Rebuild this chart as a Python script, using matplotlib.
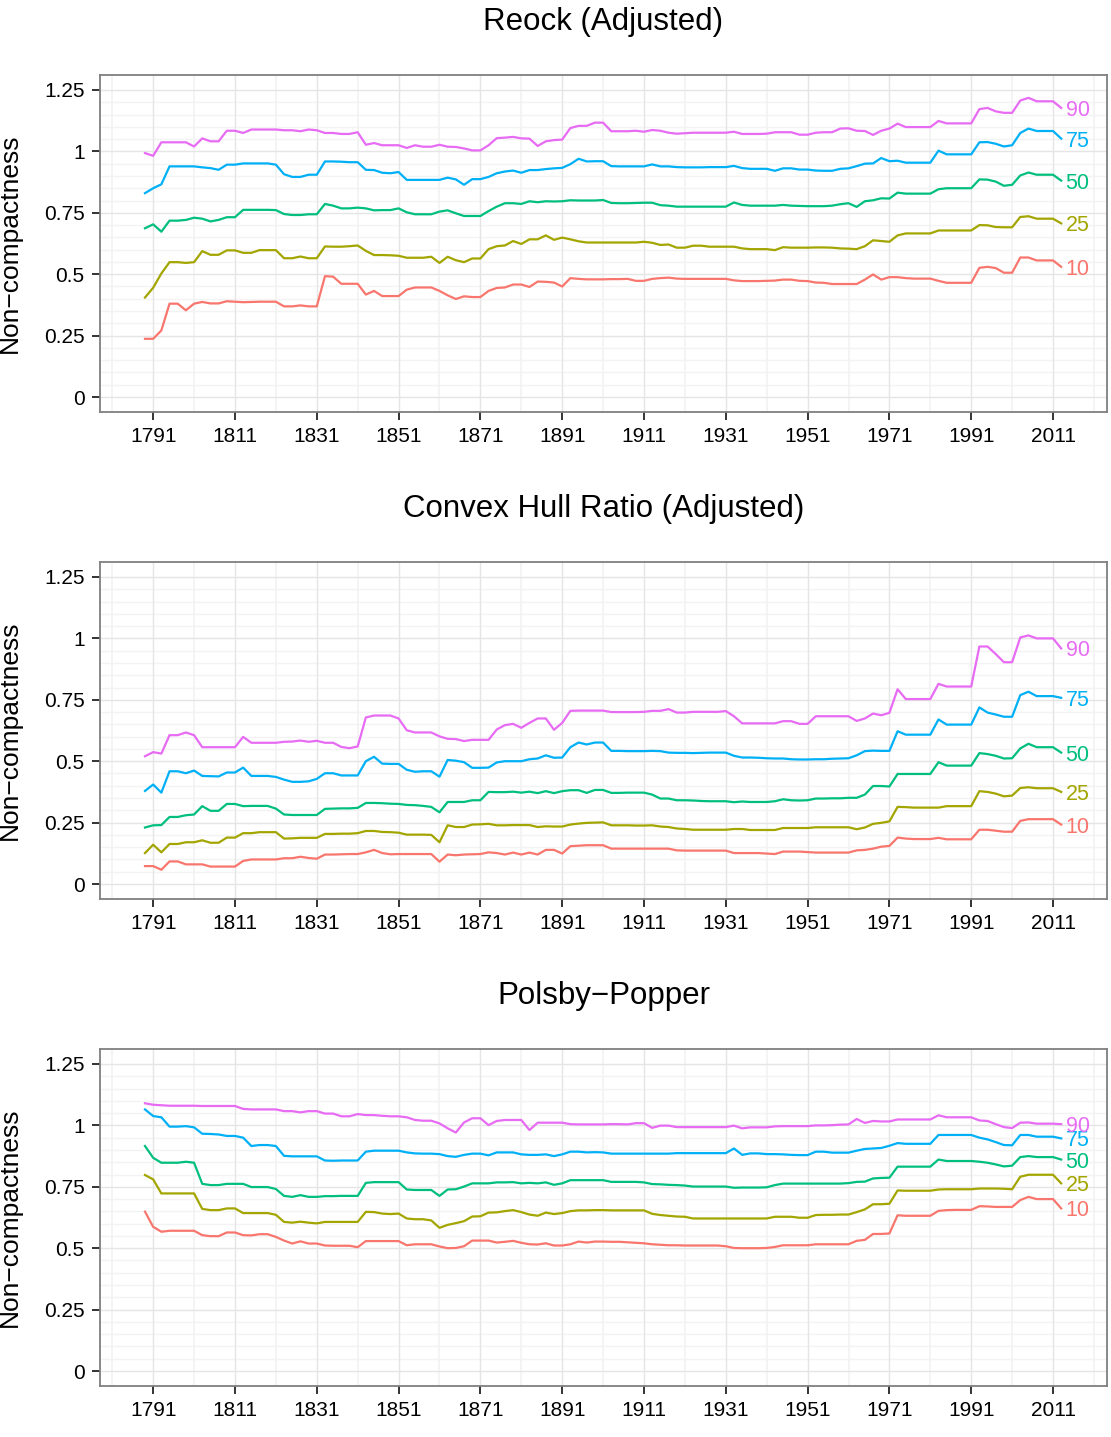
import matplotlib
matplotlib.use("Agg")
import matplotlib.pyplot as plt
import numpy as np

plt.rcParams['font.family'] = ['Liberation Sans', 'DejaVu Sans']

# congress start years, one point every two years
years = np.arange(1789, 2014, 2)
pct_names = ['10', '25', '50', '75', '90']
pct_colors = ['#F8766D', '#A3A500', '#00BF7D', '#00B0F6', '#E76BF3']
titles = ['Reock (Adjusted)', 'Convex Hull Ratio (Adjusted)', 'Polsby\u2212Popper']
ytick_vals = [0, 0.25, 0.5, 0.75, 1, 1.25]
ytick_labels = ['0', '0.25', '0.5', '0.75', '1', '1.25']
xtick_vals = list(range(1791, 2012, 20))

# ---- Reock (Adjusted) ----
reock_10 = [0.237, 0.237, 0.271, 0.380, 0.380, 0.353, 0.380, 0.387, 0.381, 0.381,
            0.390, 0.388, 0.386, 0.387, 0.388, 0.388, 0.388, 0.369, 0.369, 0.373,
            0.369, 0.369, 0.492, 0.490, 0.461, 0.461, 0.461, 0.417, 0.432, 0.411,
            0.411, 0.411, 0.437, 0.446, 0.446, 0.446, 0.432, 0.414, 0.399, 0.410,
            0.407, 0.407, 0.432, 0.444, 0.446, 0.458, 0.458, 0.448, 0.470, 0.469,
            0.466, 0.450, 0.484, 0.481, 0.479, 0.479, 0.479, 0.480, 0.480, 0.481,
            0.473, 0.473, 0.481, 0.484, 0.486, 0.482, 0.481, 0.481, 0.481, 0.481,
            0.481, 0.481, 0.475, 0.472, 0.472, 0.472, 0.473, 0.474, 0.478, 0.478,
            0.473, 0.472, 0.466, 0.465, 0.460, 0.460, 0.460, 0.460, 0.478, 0.499,
            0.478, 0.488, 0.488, 0.484, 0.482, 0.482, 0.482, 0.473, 0.465, 0.465,
            0.465, 0.465, 0.526, 0.530, 0.525, 0.506, 0.506, 0.568, 0.568, 0.556,
            0.556, 0.556, 0.530]
reock_25 = [0.405, 0.445, 0.503, 0.549, 0.549, 0.546, 0.549, 0.594, 0.579, 0.579,
            0.597, 0.597, 0.587, 0.587, 0.598, 0.598, 0.598, 0.565, 0.565, 0.572,
            0.565, 0.565, 0.613, 0.612, 0.612, 0.614, 0.617, 0.595, 0.578, 0.578,
            0.577, 0.575, 0.567, 0.567, 0.567, 0.571, 0.546, 0.571, 0.557, 0.549,
            0.564, 0.564, 0.602, 0.614, 0.617, 0.635, 0.623, 0.642, 0.642, 0.658,
            0.640, 0.649, 0.642, 0.634, 0.629, 0.629, 0.629, 0.629, 0.629, 0.629,
            0.629, 0.632, 0.628, 0.619, 0.621, 0.608, 0.608, 0.616, 0.616, 0.612,
            0.612, 0.612, 0.612, 0.605, 0.602, 0.602, 0.602, 0.598, 0.610, 0.608,
            0.608, 0.608, 0.609, 0.609, 0.608, 0.605, 0.604, 0.602, 0.614, 0.638,
            0.635, 0.632, 0.658, 0.666, 0.666, 0.666, 0.666, 0.678, 0.678, 0.678,
            0.678, 0.678, 0.700, 0.699, 0.692, 0.691, 0.691, 0.733, 0.736, 0.726,
            0.726, 0.726, 0.707]
reock_50 = [0.687, 0.703, 0.673, 0.718, 0.718, 0.721, 0.730, 0.726, 0.715, 0.721,
            0.732, 0.732, 0.762, 0.762, 0.762, 0.762, 0.761, 0.745, 0.741, 0.741,
            0.744, 0.744, 0.786, 0.779, 0.768, 0.768, 0.771, 0.768, 0.760, 0.761,
            0.761, 0.768, 0.752, 0.744, 0.744, 0.744, 0.755, 0.760, 0.748, 0.737,
            0.737, 0.737, 0.757, 0.775, 0.789, 0.789, 0.786, 0.797, 0.793, 0.797,
            0.796, 0.797, 0.801, 0.800, 0.800, 0.800, 0.802, 0.790, 0.789, 0.789,
            0.790, 0.791, 0.791, 0.781, 0.779, 0.775, 0.775, 0.775, 0.775, 0.775,
            0.775, 0.775, 0.792, 0.782, 0.779, 0.779, 0.779, 0.779, 0.782, 0.779,
            0.778, 0.777, 0.777, 0.777, 0.779, 0.785, 0.789, 0.774, 0.797, 0.801,
            0.809, 0.808, 0.832, 0.828, 0.828, 0.828, 0.828, 0.846, 0.850, 0.850,
            0.850, 0.850, 0.886, 0.885, 0.877, 0.860, 0.864, 0.902, 0.914, 0.905,
            0.905, 0.905, 0.881]
reock_75 = [0.830, 0.850, 0.866, 0.939, 0.939, 0.939, 0.939, 0.935, 0.932, 0.925,
            0.946, 0.946, 0.951, 0.951, 0.951, 0.951, 0.946, 0.907, 0.896, 0.896,
            0.905, 0.905, 0.959, 0.959, 0.958, 0.956, 0.956, 0.925, 0.924, 0.913,
            0.911, 0.916, 0.884, 0.884, 0.884, 0.884, 0.884, 0.893, 0.886, 0.864,
            0.887, 0.887, 0.896, 0.911, 0.918, 0.922, 0.913, 0.924, 0.924, 0.928,
            0.931, 0.933, 0.948, 0.970, 0.959, 0.960, 0.960, 0.940, 0.939, 0.939,
            0.939, 0.939, 0.947, 0.939, 0.939, 0.936, 0.935, 0.935, 0.935, 0.936,
            0.936, 0.936, 0.941, 0.932, 0.929, 0.929, 0.929, 0.921, 0.931, 0.931,
            0.926, 0.926, 0.922, 0.921, 0.921, 0.929, 0.931, 0.940, 0.950, 0.951,
            0.973, 0.960, 0.962, 0.954, 0.954, 0.954, 0.954, 1.003, 0.988, 0.988,
            0.988, 0.988, 1.037, 1.038, 1.031, 1.020, 1.025, 1.075, 1.093, 1.083,
            1.083, 1.083, 1.052]
reock_90 = [0.993, 0.982, 1.037, 1.037, 1.037, 1.037, 1.020, 1.053, 1.041, 1.041,
            1.084, 1.084, 1.075, 1.089, 1.089, 1.089, 1.089, 1.086, 1.086, 1.082,
            1.089, 1.086, 1.075, 1.075, 1.071, 1.071, 1.078, 1.027, 1.034, 1.025,
            1.025, 1.025, 1.014, 1.025, 1.019, 1.019, 1.027, 1.019, 1.018, 1.012,
            1.004, 1.004, 1.025, 1.054, 1.056, 1.059, 1.053, 1.052, 1.022, 1.041,
            1.046, 1.048, 1.095, 1.104, 1.104, 1.117, 1.117, 1.082, 1.082, 1.082,
            1.084, 1.080, 1.087, 1.084, 1.076, 1.072, 1.074, 1.076, 1.076, 1.076,
            1.076, 1.076, 1.080, 1.071, 1.071, 1.071, 1.072, 1.078, 1.078, 1.078,
            1.068, 1.068, 1.076, 1.078, 1.078, 1.093, 1.094, 1.084, 1.083, 1.067,
            1.084, 1.093, 1.113, 1.099, 1.099, 1.099, 1.099, 1.124, 1.114, 1.114,
            1.114, 1.114, 1.172, 1.177, 1.163, 1.157, 1.157, 1.207, 1.218, 1.204,
            1.204, 1.204, 1.177]

# ---- Convex Hull Ratio (Adjusted) ----
hull_10 = [0.073, 0.073, 0.058, 0.092, 0.092, 0.080, 0.080, 0.080, 0.071, 0.071,
           0.071, 0.071, 0.094, 0.100, 0.100, 0.100, 0.100, 0.105, 0.105, 0.111,
           0.106, 0.103, 0.120, 0.120, 0.121, 0.122, 0.122, 0.129, 0.139, 0.126,
           0.121, 0.122, 0.122, 0.122, 0.122, 0.122, 0.091, 0.120, 0.117, 0.120,
           0.121, 0.122, 0.129, 0.126, 0.120, 0.128, 0.120, 0.128, 0.120, 0.139,
           0.139, 0.124, 0.154, 0.156, 0.158, 0.158, 0.158, 0.144, 0.144, 0.144,
           0.144, 0.144, 0.144, 0.144, 0.144, 0.137, 0.136, 0.136, 0.136, 0.136,
           0.136, 0.136, 0.126, 0.126, 0.126, 0.126, 0.124, 0.122, 0.132, 0.132,
           0.132, 0.130, 0.128, 0.128, 0.128, 0.128, 0.128, 0.137, 0.139, 0.144,
           0.152, 0.155, 0.189, 0.185, 0.183, 0.183, 0.183, 0.188, 0.182, 0.182,
           0.182, 0.182, 0.221, 0.221, 0.217, 0.213, 0.213, 0.257, 0.264, 0.264,
           0.264, 0.264, 0.242]
hull_25 = [0.126, 0.160, 0.129, 0.163, 0.163, 0.170, 0.170, 0.178, 0.168, 0.168,
           0.189, 0.189, 0.207, 0.207, 0.211, 0.211, 0.211, 0.185, 0.186, 0.188,
           0.188, 0.188, 0.204, 0.204, 0.205, 0.205, 0.207, 0.216, 0.216, 0.212,
           0.211, 0.209, 0.201, 0.201, 0.201, 0.200, 0.170, 0.239, 0.232, 0.232,
           0.242, 0.243, 0.245, 0.239, 0.239, 0.240, 0.240, 0.240, 0.232, 0.235,
           0.234, 0.234, 0.242, 0.246, 0.249, 0.250, 0.251, 0.239, 0.239, 0.239,
           0.238, 0.238, 0.239, 0.234, 0.232, 0.226, 0.224, 0.221, 0.221, 0.221,
           0.221, 0.221, 0.224, 0.224, 0.220, 0.220, 0.220, 0.220, 0.228, 0.228,
           0.228, 0.228, 0.231, 0.231, 0.231, 0.231, 0.231, 0.223, 0.230, 0.245,
           0.249, 0.255, 0.314, 0.313, 0.311, 0.311, 0.311, 0.311, 0.317, 0.317,
           0.317, 0.317, 0.378, 0.375, 0.368, 0.357, 0.360, 0.391, 0.394, 0.390,
           0.390, 0.390, 0.375]
hull_50 = [0.230, 0.239, 0.240, 0.273, 0.273, 0.280, 0.283, 0.317, 0.298, 0.298,
           0.326, 0.326, 0.317, 0.318, 0.318, 0.318, 0.307, 0.283, 0.281, 0.281,
           0.281, 0.281, 0.306, 0.307, 0.308, 0.308, 0.310, 0.330, 0.330, 0.329,
           0.327, 0.326, 0.322, 0.321, 0.318, 0.314, 0.292, 0.334, 0.334, 0.334,
           0.341, 0.341, 0.375, 0.374, 0.374, 0.376, 0.372, 0.376, 0.370, 0.378,
           0.370, 0.378, 0.382, 0.382, 0.371, 0.383, 0.383, 0.371, 0.371, 0.372,
           0.372, 0.372, 0.364, 0.348, 0.348, 0.341, 0.341, 0.340, 0.338, 0.337,
           0.337, 0.337, 0.333, 0.336, 0.334, 0.334, 0.334, 0.337, 0.345, 0.341,
           0.340, 0.341, 0.348, 0.348, 0.349, 0.349, 0.351, 0.351, 0.364, 0.399,
           0.399, 0.397, 0.448, 0.448, 0.448, 0.448, 0.448, 0.496, 0.482, 0.482,
           0.482, 0.482, 0.533, 0.529, 0.522, 0.511, 0.512, 0.552, 0.571, 0.557,
           0.557, 0.557, 0.535]
hull_75 = [0.379, 0.405, 0.372, 0.459, 0.459, 0.451, 0.462, 0.440, 0.439, 0.438,
           0.454, 0.454, 0.474, 0.440, 0.440, 0.440, 0.436, 0.425, 0.416, 0.416,
           0.418, 0.428, 0.451, 0.451, 0.442, 0.442, 0.442, 0.500, 0.518, 0.490,
           0.489, 0.489, 0.465, 0.457, 0.459, 0.459, 0.437, 0.505, 0.502, 0.496,
           0.473, 0.473, 0.474, 0.495, 0.500, 0.500, 0.500, 0.508, 0.511, 0.524,
           0.514, 0.515, 0.557, 0.576, 0.568, 0.576, 0.576, 0.542, 0.542, 0.541,
           0.541, 0.541, 0.542, 0.541, 0.535, 0.534, 0.534, 0.533, 0.534, 0.535,
           0.535, 0.535, 0.522, 0.515, 0.515, 0.514, 0.512, 0.511, 0.511, 0.508,
           0.507, 0.507, 0.508, 0.508, 0.510, 0.511, 0.512, 0.524, 0.541, 0.543,
           0.542, 0.542, 0.622, 0.608, 0.608, 0.608, 0.608, 0.670, 0.649, 0.649,
           0.649, 0.649, 0.719, 0.698, 0.690, 0.681, 0.681, 0.769, 0.783, 0.765,
           0.765, 0.765, 0.758]
hull_90 = [0.520, 0.537, 0.531, 0.606, 0.606, 0.617, 0.606, 0.557, 0.557, 0.557,
           0.557, 0.557, 0.599, 0.575, 0.575, 0.575, 0.575, 0.579, 0.580, 0.584,
           0.579, 0.583, 0.575, 0.575, 0.558, 0.553, 0.560, 0.678, 0.686, 0.686,
           0.686, 0.674, 0.626, 0.617, 0.617, 0.617, 0.601, 0.591, 0.590, 0.582,
           0.587, 0.587, 0.587, 0.629, 0.647, 0.652, 0.636, 0.656, 0.674, 0.674,
           0.628, 0.656, 0.705, 0.706, 0.706, 0.706, 0.706, 0.700, 0.700, 0.700,
           0.700, 0.701, 0.705, 0.705, 0.712, 0.698, 0.698, 0.701, 0.701, 0.701,
           0.701, 0.704, 0.683, 0.654, 0.654, 0.654, 0.654, 0.654, 0.663, 0.663,
           0.652, 0.652, 0.683, 0.683, 0.683, 0.683, 0.683, 0.664, 0.674, 0.694,
           0.687, 0.697, 0.793, 0.753, 0.753, 0.753, 0.753, 0.815, 0.804, 0.804,
           0.804, 0.804, 0.967, 0.967, 0.936, 0.903, 0.903, 1.004, 1.012, 1.000,
           1.000, 1.000, 0.959]

# ---- Polsby-Popper ----
pp_10 = [0.649, 0.587, 0.567, 0.571, 0.571, 0.571, 0.571, 0.553, 0.549, 0.549,
         0.564, 0.564, 0.553, 0.552, 0.557, 0.557, 0.546, 0.531, 0.519, 0.528,
         0.519, 0.519, 0.511, 0.510, 0.510, 0.510, 0.504, 0.529, 0.529, 0.529,
         0.529, 0.529, 0.512, 0.516, 0.516, 0.516, 0.507, 0.500, 0.501, 0.508,
         0.531, 0.531, 0.531, 0.523, 0.526, 0.530, 0.522, 0.516, 0.515, 0.520,
         0.511, 0.511, 0.516, 0.527, 0.523, 0.527, 0.527, 0.526, 0.526, 0.524,
         0.522, 0.520, 0.516, 0.514, 0.512, 0.512, 0.511, 0.511, 0.511, 0.511,
         0.511, 0.508, 0.501, 0.500, 0.500, 0.500, 0.501, 0.505, 0.512, 0.512,
         0.512, 0.512, 0.516, 0.516, 0.516, 0.516, 0.516, 0.530, 0.534, 0.558,
         0.558, 0.560, 0.634, 0.632, 0.632, 0.632, 0.632, 0.652, 0.655, 0.656,
         0.656, 0.656, 0.671, 0.670, 0.668, 0.668, 0.668, 0.696, 0.709, 0.700,
         0.700, 0.700, 0.662]
pp_25 = [0.798, 0.780, 0.723, 0.723, 0.723, 0.723, 0.723, 0.660, 0.655, 0.655,
         0.662, 0.662, 0.643, 0.643, 0.643, 0.643, 0.636, 0.607, 0.604, 0.608,
         0.604, 0.601, 0.607, 0.607, 0.607, 0.607, 0.607, 0.648, 0.647, 0.641,
         0.639, 0.641, 0.621, 0.618, 0.618, 0.613, 0.583, 0.595, 0.602, 0.610,
         0.629, 0.630, 0.645, 0.646, 0.651, 0.655, 0.647, 0.637, 0.632, 0.645,
         0.639, 0.643, 0.651, 0.654, 0.654, 0.655, 0.655, 0.654, 0.654, 0.654,
         0.654, 0.654, 0.640, 0.635, 0.632, 0.629, 0.628, 0.621, 0.621, 0.621,
         0.621, 0.621, 0.621, 0.621, 0.621, 0.621, 0.621, 0.628, 0.628, 0.628,
         0.624, 0.624, 0.635, 0.636, 0.636, 0.637, 0.637, 0.647, 0.658, 0.679,
         0.679, 0.681, 0.735, 0.734, 0.734, 0.734, 0.734, 0.739, 0.740, 0.740,
         0.740, 0.740, 0.743, 0.743, 0.743, 0.742, 0.740, 0.791, 0.799, 0.799,
         0.799, 0.799, 0.764]
pp_50 = [0.916, 0.868, 0.848, 0.848, 0.848, 0.852, 0.848, 0.762, 0.757, 0.757,
         0.762, 0.762, 0.762, 0.749, 0.749, 0.749, 0.741, 0.713, 0.709, 0.716,
         0.709, 0.709, 0.712, 0.712, 0.713, 0.713, 0.713, 0.766, 0.769, 0.769,
         0.769, 0.769, 0.739, 0.737, 0.737, 0.737, 0.713, 0.739, 0.740, 0.751,
         0.764, 0.764, 0.764, 0.768, 0.768, 0.769, 0.764, 0.766, 0.764, 0.768,
         0.758, 0.764, 0.777, 0.777, 0.777, 0.777, 0.777, 0.770, 0.770, 0.770,
         0.770, 0.768, 0.761, 0.760, 0.758, 0.757, 0.755, 0.751, 0.751, 0.751,
         0.751, 0.751, 0.746, 0.747, 0.747, 0.747, 0.748, 0.757, 0.763, 0.763,
         0.763, 0.763, 0.763, 0.763, 0.763, 0.763, 0.765, 0.770, 0.771, 0.784,
         0.786, 0.787, 0.832, 0.832, 0.832, 0.832, 0.832, 0.861, 0.855, 0.855,
         0.855, 0.855, 0.852, 0.848, 0.841, 0.833, 0.836, 0.871, 0.875, 0.871,
         0.871, 0.871, 0.861]
pp_75 = [1.065, 1.038, 1.033, 0.995, 0.995, 0.997, 0.992, 0.966, 0.965, 0.963,
         0.957, 0.957, 0.950, 0.916, 0.920, 0.920, 0.916, 0.876, 0.874, 0.874,
         0.874, 0.874, 0.857, 0.856, 0.857, 0.857, 0.857, 0.893, 0.897, 0.897,
         0.897, 0.897, 0.890, 0.886, 0.885, 0.885, 0.883, 0.875, 0.872, 0.880,
         0.885, 0.885, 0.878, 0.890, 0.890, 0.890, 0.882, 0.880, 0.880, 0.882,
         0.875, 0.882, 0.893, 0.893, 0.890, 0.891, 0.890, 0.885, 0.885, 0.885,
         0.885, 0.885, 0.885, 0.885, 0.885, 0.887, 0.887, 0.887, 0.887, 0.887,
         0.887, 0.887, 0.906, 0.880, 0.886, 0.886, 0.883, 0.883, 0.882, 0.880,
         0.879, 0.879, 0.893, 0.893, 0.889, 0.889, 0.889, 0.897, 0.904, 0.906,
         0.908, 0.917, 0.928, 0.925, 0.925, 0.925, 0.925, 0.961, 0.961, 0.961,
         0.961, 0.961, 0.950, 0.943, 0.932, 0.920, 0.919, 0.961, 0.961, 0.954,
         0.954, 0.954, 0.947]
pp_90 = [1.090, 1.084, 1.082, 1.080, 1.080, 1.080, 1.080, 1.079, 1.079, 1.079,
         1.079, 1.079, 1.067, 1.065, 1.065, 1.065, 1.065, 1.058, 1.058, 1.053,
         1.058, 1.058, 1.048, 1.048, 1.037, 1.037, 1.046, 1.042, 1.042, 1.039,
         1.037, 1.037, 1.033, 1.022, 1.019, 1.019, 1.008, 0.988, 0.971, 1.012,
         1.029, 1.029, 1.001, 1.018, 1.022, 1.022, 1.022, 0.981, 1.011, 1.011,
         1.011, 1.011, 1.005, 1.004, 1.004, 1.004, 1.004, 1.005, 1.005, 1.004,
         1.009, 1.009, 0.990, 0.999, 0.999, 0.993, 0.993, 0.993, 0.993, 0.993,
         0.993, 0.993, 0.999, 0.988, 0.992, 0.992, 0.992, 0.996, 0.997, 0.997,
         0.997, 0.997, 1.000, 1.000, 1.001, 1.003, 1.004, 1.026, 1.010, 1.018,
         1.016, 1.016, 1.024, 1.024, 1.024, 1.024, 1.024, 1.041, 1.033, 1.033,
         1.033, 1.033, 1.020, 1.018, 1.005, 0.993, 0.989, 1.011, 1.012, 1.007,
         1.007, 1.007, 1.005]

panels = [
    [reock_10, reock_25, reock_50, reock_75, reock_90],
    [hull_10, hull_25, hull_50, hull_75, hull_90],
    [pp_10, pp_25, pp_50, pp_75, pp_90],
]

W, H = 1111, 1437
fig = plt.figure(figsize=(W / 100, H / 100), dpi=100)

# axes boxes in pixels: left, right, top, bottom
px_left, px_right = 100, 1107
tops = [75, 562, 1049]
ax_h = 337

for k in range(3):
    top = tops[k]
    ax = fig.add_axes([px_left / W, 1 - (top + ax_h) / H,
                       (px_right - px_left) / W, ax_h / H])
    ax.set_xlim(1778, 2024.2)
    ax.set_ylim(-0.061, 1.311)

    # grid like theme_bw
    for yv in np.arange(0.05, 1.30, 0.05):
        if abs(yv / 0.25 - round(yv / 0.25)) > 1e-6:
            ax.axhline(yv, color='#F3F3F3', lw=1.0, zorder=0)
    for xv in range(1781, 2024, 20):
        ax.axvline(xv, color='#F3F3F3', lw=1.3, zorder=0)
    for yv in ytick_vals:
        ax.axhline(yv, color='#E5E5E5', lw=1.0, zorder=0)
    for xv in xtick_vals:
        ax.axvline(xv, color='#E5E5E5', lw=1.0, zorder=0)

    for name, col, vals in zip(pct_names, pct_colors, panels[k]):
        ax.plot(years, vals, color=col, lw=1.6, zorder=3, solid_joinstyle='round')
        ax.text(2017, vals[-1], name, color=col, fontsize=15.5,
                ha='center', va='center_baseline', zorder=4)

    ax.set_xticks(xtick_vals)
    ax.set_xticklabels([str(v) for v in xtick_vals])
    ax.set_yticks(ytick_vals)
    ax.set_yticklabels(ytick_labels)
    ax.tick_params(axis='both', length=6, width=1.4, color='#333333',
                   labelsize=15, labelcolor='black', pad=5)
    for sp in ax.spines.values():
        sp.set_color('#7F7F7F')
        sp.set_linewidth(1.3)

    ax.set_ylabel('Non\u2212compactness', fontsize=19)
    ax.yaxis.set_label_coords(-0.0775, 0.5)
    ax.text(0.5, 1 + 53 / ax_h, titles[k], transform=ax.transAxes,
            ha='center', va='center', fontsize=22.5)

fig.savefig('out.png', dpi=100)
